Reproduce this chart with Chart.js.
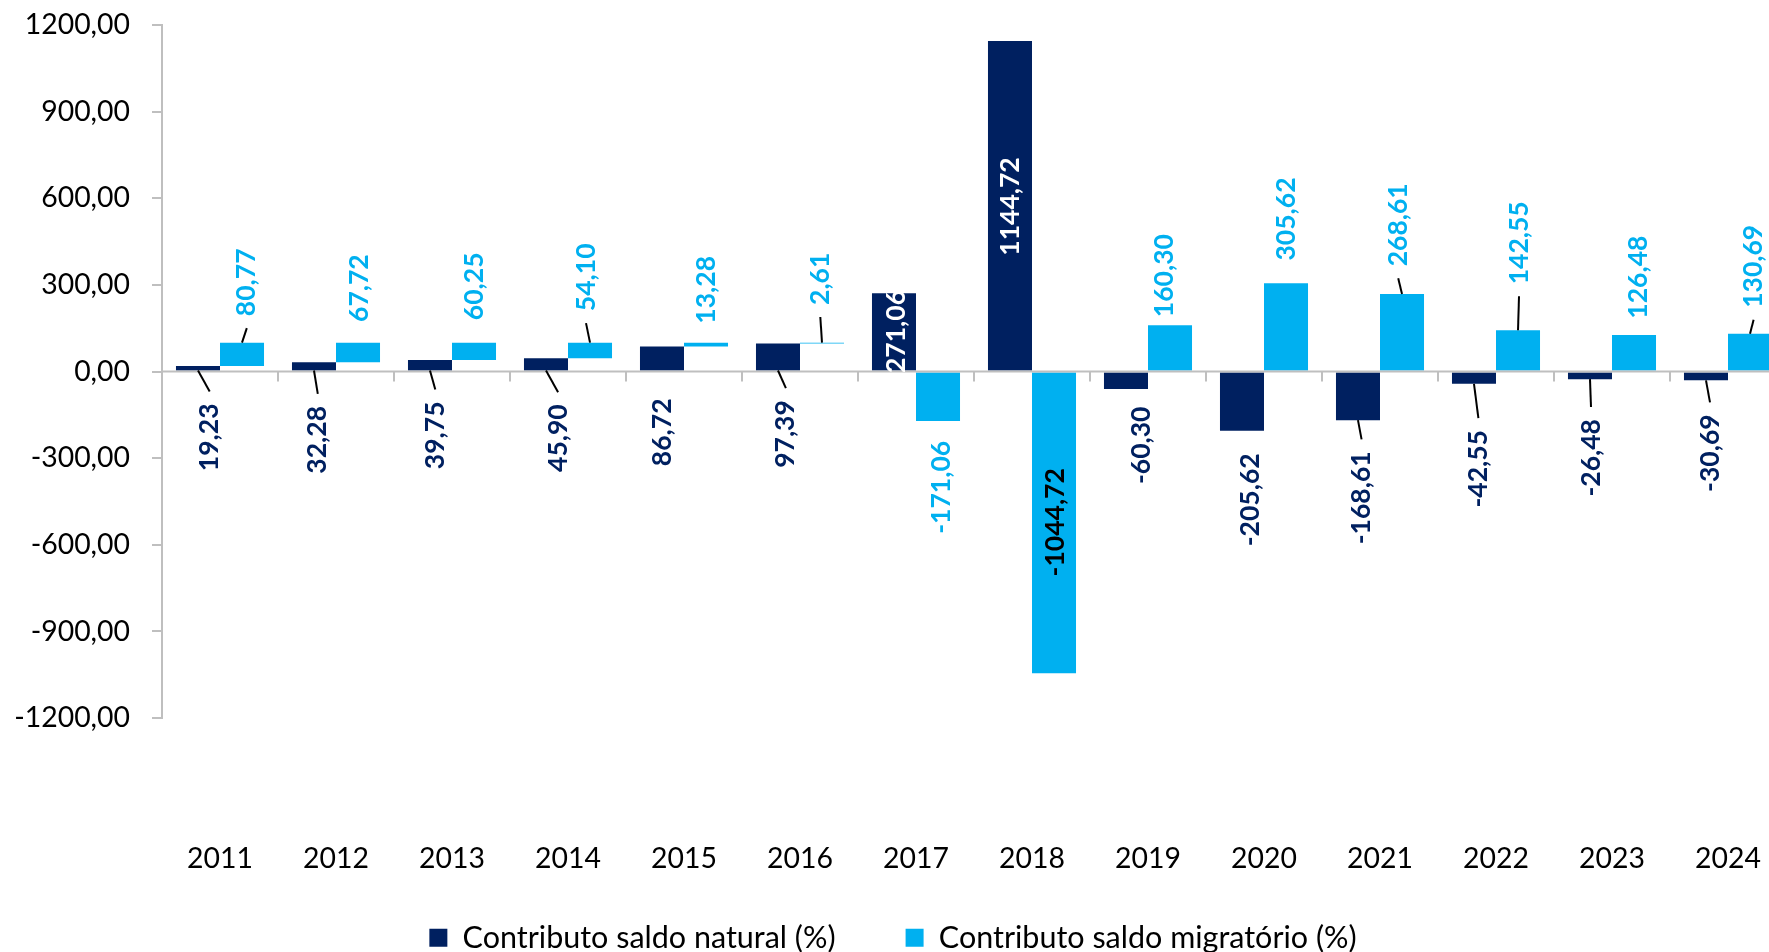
<!DOCTYPE html>
<html>
<head>
<meta charset="utf-8">
<script src="https://cdn.jsdelivr.net/npm/chart.js@4.4.1/dist/chart.umd.min.js"></script>
<style>
html,body{margin:0;padding:0;overflow:hidden;background:#fff;width:1769px;height:952px}
#wrap{position:absolute;left:0;top:0;width:1786px;height:963px}
</style>
</head>
<body>
<div id="wrap"><canvas id="c"></canvas></div>
<script>
// ---- data ----
const years = ['2011','2012','2013','2014','2015','2016','2017','2018','2019','2020','2021','2022','2023','2024'];
const natural = [19.23, 32.28, 39.75, 45.90, 86.72, 97.39, 271.06, 1144.72, -60.30, -205.62, -168.61, -42.55, -26.48, -30.69];
const migratory = [80.77, 67.72, 60.25, 54.10, 13.28, 2.61, -171.06, -1044.72, 160.30, 305.62, 268.61, 142.55, 126.48, 130.69];
const yTickValues = [-1200, -900, -600, -300, 0, 300, 600, 900, 1200];
const seriesNames = ['Contributo saldo natural (%)', 'Contributo saldo migratório (%)'];

// ---- label placement (pixel offsets from bar centre / zero line) ----
const natLabelOffsets = [[11.7,65.8],[3.8,68.3],[5.3,63.8],[12.1,66.6],[0.3,60.8],[7.9,62.5],[2.9,-40],[0.5,-165],[15.3,73.8],[8,128.3],[3.6,126.3],[4.4,97.3],[1,86.3],[4,81.6]];
const natLeaders = [true,true,true,true,false,true,false,false,false,false,true,true,true,true];
const migLabelOffsets = [[4.8,-89.2],[1,-83.4],[0.9,-85.2],[-4,-94.2],[0.3,-81.7],[-1.7,-92.7],[3.2,115.8],[1.2,150.8],[-6,-95.9],[0,-152.5],[-3.8,-146.7],[1,-128.7],[4.8,-94.4],[3.6,-105.2]];
const migLeaders = [true,false,false,true,false,true,false,false,false,false,true,true,false,true];

const DARK = '#002060', LIGHT = '#00B0F0', AXIS = '#BFBFBF';
const natLabelColors = years.map((_, i) => (i === 6 || i === 7) ? '#FFFFFF' : DARK);
const migLabelColors = years.map((_, i) => (i === 7) ? '#000000' : LIGHT);

const fmt = v => v.toFixed(2).replace('.', ',');

Chart.defaults.font.family = 'Lato';

const axisDecor = {
  id: 'axisDecor',
  afterDatasetsDraw(chart) {
    const {ctx, chartArea} = chart;
    const x = chart.scales.x, y = chart.scales.y;
    const y0 = y.getPixelForValue(0);
    ctx.save();
    ctx.strokeStyle = AXIS;
    ctx.lineWidth = 2;
    ctx.beginPath();
    ctx.moveTo(chartArea.left, y0);
    ctx.lineTo(chartArea.right, y0);
    ctx.stroke();
    const half = (x.getPixelForValue(1) - x.getPixelForValue(0)) / 2;
    for (let i = 1; i <= years.length; i++) {
      const px = Math.round(x.getPixelForValue(i) - half);
      ctx.beginPath();
      ctx.moveTo(px, y0);
      ctx.lineTo(px, y0 + 10);
      ctx.stroke();
    }
    ctx.restore();
  }
};

const valueLabels = {
  id: 'valueLabels',
  afterDatasetsDraw(chart) {
    const ctx = chart.ctx;
    const y0 = chart.scales.y.getPixelForValue(0);
    const sets = [
      {ds: 0, values: natural, offsets: natLabelOffsets, leaders: natLeaders, colors: natLabelColors},
      {ds: 2, values: migratory, offsets: migLabelOffsets, leaders: migLeaders, colors: migLabelColors}
    ];
    ctx.save();
    ctx.font = 'bold 26.5px Lato';
    sets.forEach(s => {
      const meta = chart.getDatasetMeta(s.ds);
      meta.data.forEach((bar, i) => {
        const txt = fmt(s.values[i]);
        const [dx, dy] = s.offsets[i];
        const cx = bar.x + dx, cy = y0 + dy;
        const half = ctx.measureText(txt).width / 2;
        if (s.leaders[i]) {
          const sy = Math.abs(bar.y - cy) < Math.abs(bar.base - cy) ? bar.y : bar.base;
          const ey = cy > sy ? cy - half - 12 : cy + half + 12;
          ctx.strokeStyle = '#000';
          ctx.lineWidth = 2;
          ctx.beginPath();
          ctx.moveTo(bar.x, sy);
          ctx.lineTo(cx, ey);
          ctx.stroke();
        }
        ctx.save();
        ctx.translate(cx, cy);
        ctx.rotate(-Math.PI / 2);
        ctx.fillStyle = s.colors[i];
        ctx.textAlign = 'center';
        ctx.textBaseline = 'middle';
        ctx.fillText(txt, 0, 0);
        ctx.restore();
      });
    });
    ctx.restore();
  }
};

new Chart(document.getElementById('c'), {
  type: 'bar',
  data: {
    labels: years,
    datasets: [
      {label: seriesNames[0], data: natural, backgroundColor: DARK, borderWidth: 0, stack: 'nat'},
      {label: 'offset', data: natural, backgroundColor: 'rgba(0,0,0,0)', borderWidth: 0, stack: 'mig'},
      {label: seriesNames[1], data: migratory, backgroundColor: LIGHT, borderWidth: 0, stack: 'mig'}
    ]
  },
  options: {
    responsive: true,
    maintainAspectRatio: false,
    animation: false,
    devicePixelRatio: 1,
    layout: {padding: {top: 25, right: 0, bottom: 0, left: 0}},
    datasets: {bar: {barPercentage: 1, categoryPercentage: 0.759}},
    scales: {
      x: {
        stacked: true,
        grid: {display: false, drawTicks: true, tickLength: 123.5},
        border: {display: false},
        ticks: {color: '#000', font: {size: 28.4}, padding: 0, maxRotation: 0, autoSkip: false},
        afterFit(scale) {
          const lh = scale.chart.legend ? scale.chart.legend.height : 0;
          scale.height = 963 - lh - 718;
          scale.paddingLeft = 0;
          scale.paddingRight = 0;
          scale._computeLabelArea = () => undefined;
        }
      },
      y: {
        stacked: true,
        min: -1200, max: 1200,
        afterBuildTicks(scale) { scale.ticks = yTickValues.map(v => ({value: v})); },
        grid: {drawOnChartArea: false, drawTicks: true, tickLength: 10, tickColor: AXIS, lineWidth: 2},
        border: {display: true, color: AXIS, width: 2},
        ticks: {color: '#000', font: {size: 28.4}, padding: 22, callback: v => fmt(v)},
        afterFit(scale) {
          scale.width = 162;
          scale.paddingTop = 0;
          scale.paddingBottom = 0;
        }
      }
    },
    plugins: {
      tooltip: {enabled: false},
      legend: {
        position: 'bottom',
        labels: {
          color: '#000',
          font: {size: 30.5},
          boxWidth: 18, boxHeight: 18,
          padding: 70,
          filter: item => item.datasetIndex !== 1
        }
      }
    }
  },
  plugins: [axisDecor, valueLabels]
});
</script>
</body>
</html>
